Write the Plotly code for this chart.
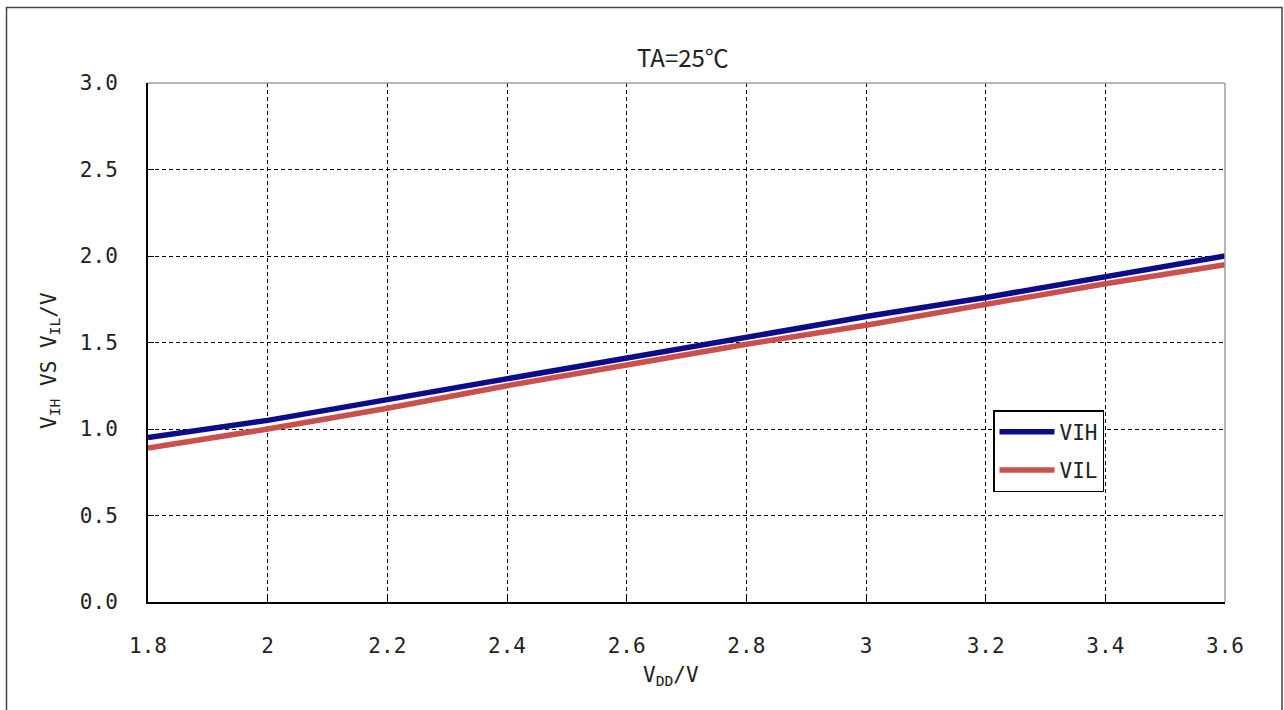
import plotly.graph_objects as go

# Supply voltage (V) and measured input thresholds (V)
vdd = [1.8, 2.0, 2.2, 2.4, 2.6, 2.8, 3.0, 3.2, 3.4, 3.6]
vih = [0.95, 1.05, 1.17, 1.29, 1.41, 1.53, 1.65, 1.76, 1.88, 2.00]
vil = [0.89, 1.00, 1.12, 1.25, 1.37, 1.49, 1.60, 1.72, 1.84, 1.95]

x_ticks = [1.8, 2.0, 2.2, 2.4, 2.6, 2.8, 3.0, 3.2, 3.4, 3.6]
x_tick_text = ["1.8", "2", "2.2", "2.4", "2.6", "2.8", "3", "3.2", "3.4", "3.6"]
y_ticks = [0.0, 0.5, 1.0, 1.5, 2.0, 2.5, 3.0]
y_tick_text = ["0.0", "0.5", "1.0", "1.5", "2.0", "2.5", "3.0"]

W, H = 1284, 710
L, R, T, B = 148, 59, 83, 108
pw, ph = W - L - R, H - T - B

def px(xpix):
    return (xpix - L) / pw

def py(ypix):
    return (H - B - ypix) / ph

mono = "DejaVu Sans Mono"

fig = go.Figure()
fig.add_trace(go.Scatter(x=vdd, y=vih, mode="lines", name="VIH",
                         line=dict(color="#0c0c8a", width=5.5), legendgroup="a"))
fig.add_trace(go.Scatter(x=vdd, y=vil, mode="lines", name="VIL",
                         line=dict(color="#c9504c", width=5.5), legendgroup="b"))

axis_common = dict(
    showgrid=True, gridcolor="black", gridwidth=1.2, griddash="4px,3px",
    zeroline=False, showline=True, linecolor="black", linewidth=2,
    ticks="inside", ticklen=6, tickcolor="black",
    tickfont=dict(family=mono, size=21, color="#222"),
)

fig.update_xaxes(range=[1.8, 3.6], tickvals=x_ticks, ticktext=x_tick_text,
                 ticklabelstandoff=24, **axis_common)
fig.update_yaxes(range=[0, 3], tickvals=y_ticks, ticktext=y_tick_text,
                 ticklabelstandoff=24, **axis_common)

# gray top/right frame of the plot area and outer chart border
shapes = [
    dict(type="line", xref="paper", yref="paper", x0=0, x1=1, y0=1, y1=1,
         line=dict(color="#a0a0a0", width=1.5), layer="above"),
    dict(type="line", xref="paper", yref="paper", x0=1, x1=1, y0=0, y1=1,
         line=dict(color="#a0a0a0", width=1.5), layer="above"),
    dict(type="rect", xref="paper", yref="paper",
         x0=px(6.5), x1=px(1282), y0=py(716), y1=py(7.5),
         line=dict(color="#444", width=1.5), layer="below"),
]

annotations = [
    dict(text="TA=25℃", x=px(683), y=py(57), xref="paper", yref="paper",
         showarrow=False, font=dict(family="Noto Sans CJK SC", size=24, color="#222"),
         xanchor="center", yanchor="middle"),
    dict(text="V<sub>DD</sub>/V", x=px(671), y=py(676), xref="paper", yref="paper",
         showarrow=False, font=dict(family=mono, size=21, color="#222"),
         xanchor="center", yanchor="middle"),
    dict(text="V<sub>IH</sub> VS V<sub>IL</sub>/V", x=px(50), y=py(361),
         xref="paper", yref="paper", textangle=-90,
         showarrow=False, font=dict(family=mono, size=21, color="#222"),
         xanchor="center", yanchor="middle"),
]

fig.update_layout(
    width=W, height=H,
    margin=dict(l=L, r=R, t=T, b=B, pad=0),
    paper_bgcolor="white", plot_bgcolor="white",
    shapes=shapes, annotations=annotations,
    legend=dict(x=px(993), y=py(410), xanchor="left", yanchor="top",
                bgcolor="white", bordercolor="black", borderwidth=1.5,
                font=dict(family=mono, size=21, color="#222"),
                tracegroupgap=8, traceorder="grouped", itemwidth=55),
)

fig.write_html("out.html")
